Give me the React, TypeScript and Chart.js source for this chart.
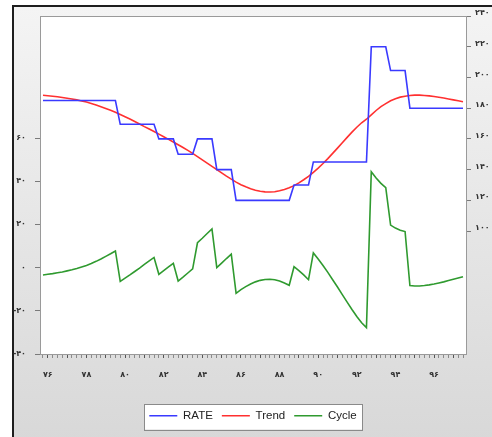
import React, { useEffect, useRef } from 'react';
import { Chart, registerables } from 'chart.js';

Chart.register(...registerables);

// Quarterly observations, first one is 1375Q4 (index 0); 1376Q1 is index 1
const rate = [
  185, 185, 185, 185, 185, 185, 185, 185, 185, 185, 185, 185, 185, 185, 185, 185,
  169.5, 169.5, 169.5, 169.5, 169.5, 169.5, 169.5, 169.5,
  160, 160, 160, 160,
  150, 150, 150, 150,
  160, 160, 160, 160,
  140, 140, 140, 140,
  120, 120, 120, 120, 120, 120, 120, 120, 120, 120, 120, 120,
  130, 130, 130, 130,
  145, 145, 145, 145, 145, 145, 145, 145, 145, 145, 145, 145,
  220, 220, 220, 220,
  204.5, 204.5, 204.5, 204.5,
  180, 180, 180, 180, 180, 180, 180, 180, 180, 180, 180, 180,
];

const trend = [
  188.4, 188.1, 187.8, 187.4, 187.0, 186.5, 186.0, 185.4, 184.7, 184.0,
  183.1, 182.1, 181.0, 179.8, 178.6, 177.3, 175.9, 174.4, 172.9, 171.3,
  169.7, 168.0, 166.4, 164.8, 163.1, 161.4, 159.7, 158.0, 156.2, 154.4,
  152.5, 150.6, 148.5, 146.4, 144.2, 142.1, 140.0, 137.9, 135.8, 133.8,
  131.9, 130.2, 128.8, 127.6, 126.6, 125.9, 125.5, 125.4, 125.6, 126.2,
  127.1, 128.2, 129.6, 131.4, 133.4, 135.6, 138.2, 141.0, 144.0, 147.2,
  150.6, 154.0, 157.5, 161.0, 164.4, 167.6, 170.5, 172.8, 175.6, 178.5,
  181.0, 183.0, 184.8, 186.2, 187.2, 187.8, 188.3, 188.5, 188.5, 188.3,
  188.0, 187.6, 187.1, 186.6, 186.0, 185.4, 184.8, 184.2,
];

const cycle = [
  -3.4, -3.1, -2.8, -2.4, -2.0, -1.5, -1.0, -0.4, 0.3, 1.0,
  1.9, 2.9, 4.0, 5.2, 6.4, 7.7, -6.4, -4.9, -3.4, -1.8,
  -0.2, 1.5, 3.1, 4.7, -3.1, -1.4, 0.3, 2.0, -6.2, -4.4,
  -2.5, -0.6, 11.5, 13.6, 15.8, 17.9, 0.0, 2.1, 4.2, 6.2,
  -11.9, -10.2, -8.8, -7.6, -6.6, -5.9, -5.5, -5.4, -5.6, -6.2,
  -7.1, -8.2, 0.4, -1.4, -3.4, -5.6, 6.8, 4.0, 1.0, -2.2,
  -5.6, -9.0, -12.5, -16.0, -19.4, -22.6, -25.5, -27.8, 44.4, 41.5,
  39.0, 37.0, 19.7, 18.3, 17.3, 16.7, -8.3, -8.5, -8.5, -8.3,
  -8.0, -7.6, -7.1, -6.6, -6.0, -5.4, -4.8, -4.2,
];

const yearLabels = ['۷۶', '۷۸', '۸۰', '۸۲', '۸۴', '۸۶', '۸۸', '۹۰', '۹۲', '۹۴', '۹۶'];
const firstQ1Index = 1;
const leftTicks = [-40, -20, 0, 20, 40, 60];
const rightTicks = [100, 120, 140, 160, 180, 200, 220, 240];

const faDigits = '۰۱۲۳۴۵۶۷۸۹';
const toFa = (n: number) => String(n).replace(/\d/g, (d) => faDigits[+d]);

const tickFont = { family: 'DejaVu Sans', size: 8, weight: 'bold' as const };

const frame = {
  id: 'frame',
  beforeDraw(chart: any) {
    const { ctx, chartArea } = chart;
    ctx.save();
    ctx.fillStyle = '#ffffff';
    ctx.fillRect(chartArea.left, chartArea.top, chartArea.right - chartArea.left, chartArea.bottom - chartArea.top);
    ctx.strokeStyle = '#9a9a9a';
    ctx.lineWidth = 1;
    ctx.beginPath();
    ctx.moveTo(chartArea.left, chartArea.top + 0.5);
    ctx.lineTo(chartArea.right, chartArea.top + 0.5);
    ctx.stroke();
    const lg = chart.legend;
    if (lg && lg.legendHitBoxes && lg.legendHitBoxes.length) {
      const hb = lg.legendHitBoxes;
      const l = Math.min(...hb.map((h: any) => h.left)) - 5;
      const r = Math.max(...hb.map((h: any) => h.left + h.width)) + 6;
      const t = hb[0].top - 6;
      const b = hb[0].top + hb[0].height + 8;
      ctx.fillStyle = '#ffffff';
      ctx.fillRect(l, t, r - l, b - t);
      ctx.strokeStyle = '#8a8a8a';
      ctx.strokeRect(Math.round(l) + 0.5, Math.round(t) + 0.5, Math.round(r - l), Math.round(b - t));
    }
    ctx.restore();
  },
};

export default function App() {
  const ref = useRef<HTMLCanvasElement | null>(null);

  useEffect(() => {
    if (!ref.current) return;
    const chart = new Chart(ref.current, {
      type: 'line',
      data: {
        datasets: [
          {
            label: 'RATE',
            data: rate.map((v, i) => ({ x: i, y: v })),
            borderColor: '#3a3aff',
            borderWidth: 1.6,
            pointRadius: 0,
            yAxisID: 'yR',
          },
          {
            label: 'Trend',
            data: trend.map((v, i) => ({ x: i, y: v })),
            borderColor: '#ff3030',
            borderWidth: 1.6,
            pointRadius: 0,
            yAxisID: 'yR',
          },
          {
            label: 'Cycle',
            data: cycle.map((v, i) => ({ x: i, y: v })),
            borderColor: '#2f9a2f',
            borderWidth: 1.6,
            pointRadius: 0,
            yAxisID: 'yL',
          },
        ],
      },
      options: {
        responsive: false,
        animation: false,
        devicePixelRatio: 1,
        layout: { padding: { top: 16, bottom: 5.5, left: 0, right: 0 } },
        plugins: {
          tooltip: { enabled: false },
          legend: {
            position: 'bottom',
            fullSize: false,
            labels: {
              usePointStyle: true,
              pointStyle: 'line',
              pointStyleWidth: 28,
              padding: 9,
              color: '#222',
              font: { family: 'Liberation Sans', size: 11.5 },
            },
          },
        },
        scales: {
          x: {
            type: 'linear',
            min: -0.62,
            max: rate.length - 1 + 0.62,
            afterBuildTicks: (s: any) => {
              s.ticks = rate.map((_, i) => ({ value: i }));
            },
            afterFit: (s: any) => {
              s.height = 47;
            },
            grid: {
              display: true,
              drawOnChartArea: false,
              drawTicks: true,
              tickLength: 4,
              tickColor: (c: any) => ((Number(c.tick?.value) - firstQ1Index) % 4 === 0 ? '#555' : '#8a8a8a'),
            },
            border: { display: true, color: '#9a9a9a' },
            ticks: {
              autoSkip: false,
              maxRotation: 0,
              padding: 12,
              color: '#333',
              font: tickFont,
              callback: (v: any) => {
                const i = Number(v) - firstQ1Index;
                if (i >= 0 && i % 8 === 0) return yearLabels[i / 8] ?? '';
                return '';
              },
            },
          },
          yL: {
            type: 'linear',
            position: 'left',
            min: -40,
            max: 116.5,
            afterBuildTicks: (s: any) => {
              s.ticks = leftTicks.map((v) => ({ value: v }));
            },
            afterFit: (s: any) => {
              s.width = 40;
            },
            grid: { display: true, drawOnChartArea: false, drawTicks: true, tickLength: 5, tickColor: '#7a7a7a' },
            border: { display: true, color: '#9a9a9a' },
            ticks: { padding: 9, color: '#333', font: tickFont, callback: (v: any) => toFa(Number(v)) },
          },
          yR: {
            type: 'linear',
            position: 'right',
            min: 20,
            max: 240,
            afterBuildTicks: (s: any) => {
              s.ticks = rightTicks.map((v) => ({ value: v }));
            },
            afterFit: (s: any) => {
              s.width = 26;
            },
            grid: { display: true, drawOnChartArea: false, drawTicks: true, tickLength: 5, tickColor: '#7a7a7a' },
            border: { display: true, color: '#9a9a9a' },
            ticks: {
              padding: 4,
              labelOffset: -3,
              color: '#333',
              font: tickFont,
              callback: (v: any) => toFa(Number(v)),
            },
          },
        },
      },
      plugins: [frame],
    });
    return () => chart.destroy();
  }, []);

  return (
    <div style={{ position: 'fixed', left: 0, top: 0, width: 492, height: 437, overflow: 'hidden', background: '#ffffff' }}>
      <div
        style={{
          position: 'absolute',
          left: 12,
          top: 5,
          width: 520,
          height: 470,
          boxSizing: 'border-box',
          border: '2px solid #1e1e1e',
          background: 'linear-gradient(#f4f4f4, #d6d6d6)',
        }}
      />
      <canvas ref={ref} width={492} height={437} style={{ position: 'absolute', left: 0, top: 0, width: 492, height: 437 }} />
    </div>
  );
}
